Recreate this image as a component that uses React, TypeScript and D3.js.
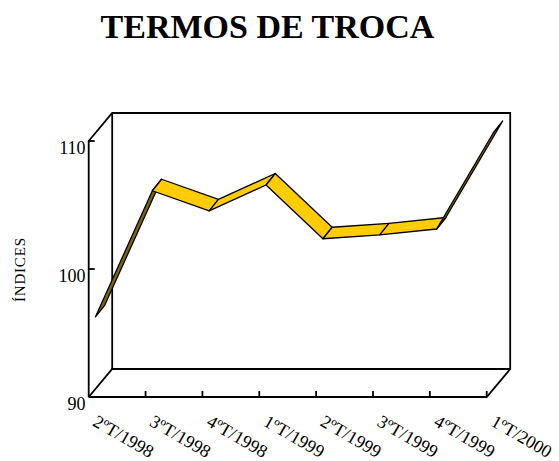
import React from "react";
import * as d3 from "d3";

const categories = ["2ºT/1998", "3ºT/1998", "4ºT/1998", "1ºT/1999", "2ºT/1999", "3ºT/1999", "4ºT/1999", "1ºT/2000"];
const values = [95.6, 105.45, 103.87, 105.9, 101.7, 102.0, 102.46, 110.0];
const yTicks = [90, 100, 110];
const title = "TERMOS DE TROCA";
const yTitle = "ÍNDICES";

const W = 559, H = 461;
const DX = 23.5, DY = 28;
// ribbon front / back offsets (screen px) from the front plane
const FX = 6.8, FY = 8.5, BX = 16, BY = 20;

export default function App() {
  const x = d3.scalePoint<string>().domain(categories).range([88.7, 486.7]);
  const y = d3.scaleLinear().domain([90, 110]).range([397, 141]);
  const x0 = x(categories[0])!, x1 = x(categories[categories.length - 1])!;
  const yb = y(90), yt = y(110);
  const line = d3.line<[number, number]>().x(d => d[0]).y(d => d[1]);

  const pts = categories.map((c, i) => ({ x: x(c)!, y: y(values[i]) }));
  const front = (p: { x: number; y: number }) => [p.x + FX, p.y - FY] as [number, number];
  const back = (p: { x: number; y: number }) => [p.x + BX, p.y - BY] as [number, number];

  const segs = pts.slice(0, -1).map((p, i) => {
    const q = pts[i + 1];
    const a = front(p), b = front(q), c = back(q), d = back(p);
    const sx = b[0] - a[0], sy = b[1] - a[1];
    const ox = d[0] - a[0], oy = d[1] - a[1];
    const cross = sx * oy - sy * ox;
    const top = cross < 0;
    return { path: line([a, b, c, d, a])! + "Z", fill: top ? "#FFCC00" : "#806600" };
  });

  return (
    <svg width={W} height={H} style={{ position: "absolute", left: 0, top: 0, background: "#fff" }}
      fontFamily="'Liberation Serif', 'Times New Roman', serif">
      <text x={267.5} y={38} textAnchor="middle" fontSize={34} fontWeight="bold">{title}</text>
      <text transform="translate(25,270) rotate(-90)" textAnchor="middle" fontSize={15}
        textLength={64} lengthAdjust="spacing">{yTitle}</text>
      <g fill="none" stroke="#000" strokeWidth={1.8} strokeLinejoin="miter">
        <path d={line([[x0, yb], [x0, yt], [x0 + DX, yt - DY], [x1 + DX, yt - DY], [x1 + DX, yb - DY], [x1, yb], [x0, yb]])!} />
        <path d={line([[x0, yb], [x0 + DX, yb - DY], [x1 + DX, yb - DY]])!} />
        <path d={line([[x0 + DX, yb - DY], [x0 + DX, yt - DY]])!} />
        {yTicks.map(t => (
          <path key={t} d={line([[x0, y(t)], [x0 + 6, y(t)]])!} />
        ))}
        {categories.slice(1).map(c => (
          <path key={c} d={line([[x(c)!, yb], [x(c)!, yb - 6]])!} />
        ))}
      </g>
      {yTicks.map(t => (
        <text key={t} x={85.5} y={y(t) + 13} textAnchor="end" fontSize={18}>{t}</text>
      ))}
      {categories.map(c => (
        <text key={c} transform={`translate(${x(c)! + 3},${yb + 28}) rotate(30)`} fontSize={18}>{c}</text>
      ))}
      <g stroke="#000" strokeWidth={1.3} strokeLinejoin="round">
        {segs.map((s, i) => <path key={i} d={s.path} fill={s.fill} />)}
      </g>
    </svg>
  );
}
